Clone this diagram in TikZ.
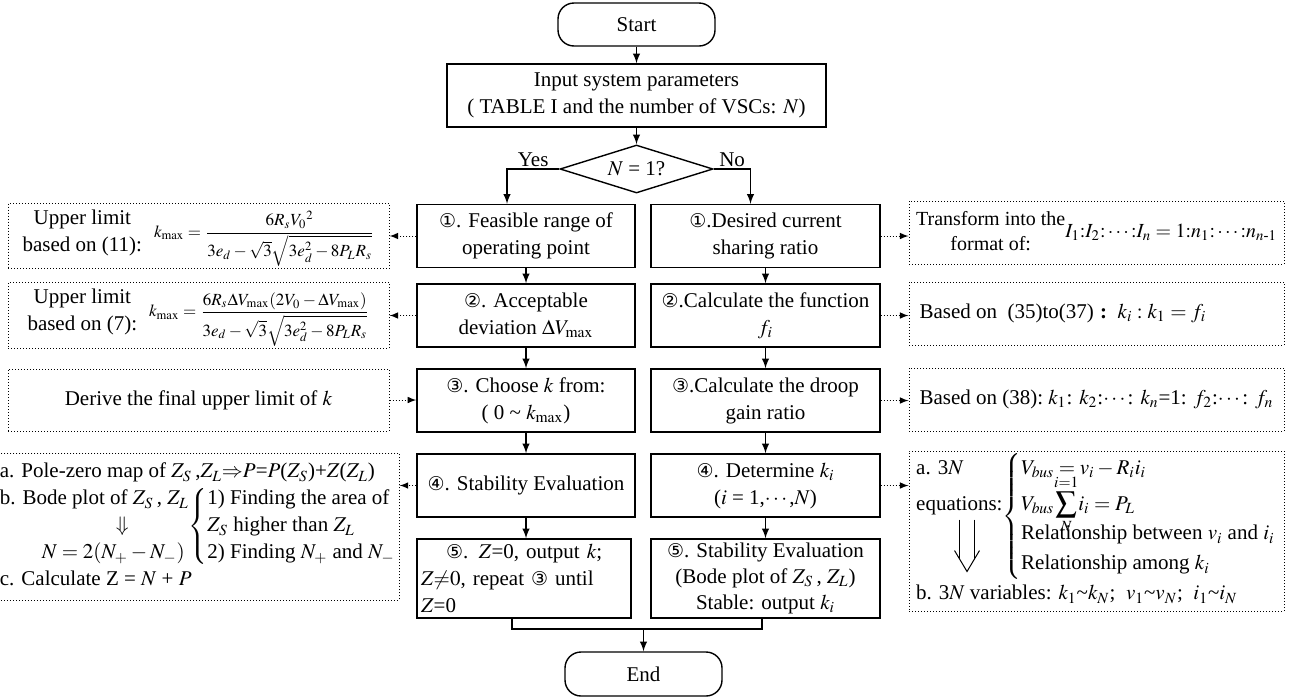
\documentclass[tikz,border=0pt]{standalone}
\usepackage{amsmath}
\usepackage{mathptmx}
\usepackage{fontspec}
\setmainfont{Liberation Serif}
\newfontfamily\circfont{DejaVu Sans}
\newcommand{\circnum}[1]{{\circfont\fontsize{9.5}{10}\selectfont #1}}
\newcommand{\mathsmall}{\fontsize{8.5}{10}\selectfont}
\usetikzlibrary{shapes.geometric}

\begin{document}
\begin{tikzpicture}[x=0.5pt, y=-0.5pt,
every node/.style={font=\fontsize{10.5}{13.5}\selectfont, inner sep=1pt},
proc/.style={draw, line width=0.7pt, align=center},
lbox/.style={proc, minimum width=109pt, minimum height=31.5pt},
rbox/.style={proc, minimum width=114.5pt, minimum height=31.5pt},
term/.style={proc, rounded corners=8pt, minimum width=78.5pt, minimum height=21.5pt},
decision/.style={draw, diamond, aspect=3.2, inner sep=0pt, line width=0.7pt, minimum width=76.5pt, minimum height=24pt},
note/.style={draw, densely dotted, line width=0.5pt},
lnote/.style={note, minimum width=190.5pt, minimum height=31.5pt},
rnote/.style={note, minimum width=187.5pt, minimum height=31.5pt},
flow/.style={draw, -latex, line width=0.7pt},
aside/.style={draw, -latex, densely dotted, line width=0.5pt},
]
\useasboundingbox (0,0) rectangle (1299,697);

% main flow
\node[term] (start) at (636.5,24.5) {Start};
\node[proc, minimum width=189.5pt, minimum height=31.5pt] (input) at (636.5,95.5)
  {Input system parameters\\( TABLE I and the number of VSCs: $N$)};
\node[decision] (dec) at (636.5,169) {$N$ = 1?};

% N = 1
\node[lbox] (l1) at (526,236) {\circnum{①}. Feasible range of\\operating point};
\node[lbox] (l2) at (526,315.5) {\circnum{②}. Acceptable\\deviation $\Delta V_{\mathrm{max}}$};
\node[lbox] (l3) at (526,400.5) {\circnum{③}. Choose $k$ from:\\( 0 \textasciitilde{} $k_{\mathrm{max}}$)};
\node[lbox] (l4) at (526,485.5) {\circnum{④}. Stability Evaluation};
\node[lbox, minimum width=107pt, minimum height=39.5pt, text width=103pt, align=left] (l5) at (524,578.5)
  {\hspace*{12.5pt}\circnum{⑤}. $Z$=0, output $k$;\\$Z{\neq}0$, repeat \circnum{③} until\\$Z$=0};

% N > 1
\node[rbox] (r1) at (765.5,236) {\circnum{①}.Desired current\\sharing ratio};
\node[rbox] (r2) at (765.5,315.5) {\circnum{②}.Calculate the function\\$f_i$};
\node[rbox] (r3) at (765.5,400.5) {\circnum{③}.Calculate the droop\\gain ratio};
\node[rbox] (r4) at (765.5,485.5) {\circnum{④}. Determine $k_i$\\($i$ = 1,$\cdots$,$N$)};
\node[rbox, minimum height=39.5pt, font=\fontsize{10.5}{13}\selectfont] (r5) at (765.5,578.5)
  {\circnum{⑤}. Stability Evaluation\\(Bode plot of $Z_S$\,, $Z_L$)\\Stable: output $k_i$};

\node[term, minimum height=22pt] (end) at (643.5,674) {End};

% notes on the left
\node[lnote, minimum height=31pt] (ll1) at (198.5,236)
  {\begin{tabular}{@{}c@{}}Upper limit\\based on (11):\end{tabular}\hspace{6pt}%
   {\mathsmall$k_{\mathrm{max}}=\dfrac{6R_sV_0{}^2}{3e_d-\sqrt{3}\sqrt{3e_d^2-8P_LR_s}}$}};
\node[lnote] (ll2) at (198.5,315.5)
  {\begin{tabular}{@{}c@{}}Upper limit\\based on (7):\end{tabular}\hspace{6pt}%
   {\mathsmall$k_{\mathrm{max}}=\dfrac{6R_s\Delta V_{\mathrm{max}}(2V_0-\Delta V_{\mathrm{max}})}{3e_d-\sqrt{3}\sqrt{3e_d^2-8P_LR_s}}$}};
\node[lnote, minimum height=31pt] (ll3) at (198.5,400) {Derive the final upper limit of $k$};
\node[lnote, minimum height=73.5pt] (ll4) at (198.5,526.5)
  {\begin{tabular}{@{}l@{}}
   a. Pole-zero map of $Z_S$\,,$Z_L$$\Rightarrow$$P$=$P$($Z_S$)+$Z$($Z_L$)\\
   \begin{tabular}{@{}l@{}}b. Bode plot of $Z_S$\,, $Z_L$\\\hspace*{58pt}$\Downarrow$\\\hspace*{21pt}$N=2(N_+-N_-)$\end{tabular}%
   $\left\{\begin{tabular}{@{}l@{}}1) Finding the area of\\$Z_S$ higher than $Z_L$\\2) Finding $N_+$ and $N_-$\end{tabular}\right.$\\
   c. Calculate Z = $N$ + $P$
   \end{tabular}};

% notes on the right
\node[rnote, minimum height=31.5pt, font=\fontsize{10}{12.5}\selectfont] (rr1) at (1096.5,232.5)
  {\begin{tabular}{@{}c@{}}Transform into the\\format of:\end{tabular}%
   $I_1{:}I_2{:}\cdots{:}I_n=1{:}n_1{:}\cdots{:}n_{n\text{-}1}$};
\node[rnote] (rr2) at (1096.5,313.5)
  {\makebox[177pt][l]{Based on~ (35)to(37)\hspace{0.3em}\textbf{:}\hspace{0.5em}$k_i:k_1=f_i$}};
\node[rnote] (rr3) at (1096.5,399.5)
  {\makebox[177pt]{Based on (38):\hfill$k_1$: $k_2$:$\cdots$: $k_n$=1: $f_2$:$\cdots$: $f_n$}};
\node[rnote, minimum height=80pt, font=\fontsize{10.5}{13}\selectfont] (rr4) at (1096.5,531)
  {\renewcommand{\arraystretch}{1.15}%
   \begin{tabular}{@{}l@{}}
   \begin{tabular}{@{}l@{}}a. 3$N$\\[3pt]equations:\\ \\ \\\end{tabular}%
   $\left\{\begin{array}{@{}l@{}}
   V_{bus}=v_i-R_ii_i\\[3pt]
   V_{bus}\smash{\displaystyle\sum^{i=1}_{N}}i_i=P_L\\
   \text{Relationship between }v_i\text{ and }i_i\\
   \text{Relationship among }k_i
   \end{array}\right.$\\
   b. 3$N$ variables: $k_1$\textasciitilde$k_N$; \ $v_1$\textasciitilde$v_N$; \ $i_1$\textasciitilde$i_N$
   \end{tabular}};
\begin{scope}[shift={(rr4.north west)}, line width=0.5pt]
\draw (51,69) -- (51,108.4) (66,69) -- (66,108.4);
\draw (46,100) -- (58.5,121) -- (71,100);
\end{scope}

% connectors
\draw[flow] (start) -- (input);
\draw[flow] (input) -- (dec);
\draw[flow] (dec.west) -| node[pos=0.25, above] {Yes} ([xshift=-9.5pt]l1.north);
\draw[flow] (dec.east) -| node[pos=0.25, above] {No} ([xshift=-7.5pt]r1.north);
\foreach \a/\b in {l1/l2,l2/l3,l3/l4,l4/l5,r1/r2,r2/r3,r3/r4,r4/r5}
  \draw[flow] (\a.south) -- (\a.south |- \b.north);
\coordinate (join) at (643.5,629);
\draw[line width=0.7pt] ([xshift=-6pt]l5.south) |- (join) -| ([xshift=-1.75pt]r5.south);
\draw[flow] (join) -- (end);

\draw[aside] (l1.west) -- (l1.west -| ll1.east);
\draw[aside] (l2.west) -- (l2.west -| ll2.east);
\draw[aside] (ll3.east) -- (ll3.east -| l3.west);
\draw[aside] (l4.west) -- (l4.west -| ll4.east);
\foreach \n in {1,2,3,4}
  \draw[aside] (r\n.east) -- (r\n.east -| rr\n.west);
\end{tikzpicture}
\end{document}
